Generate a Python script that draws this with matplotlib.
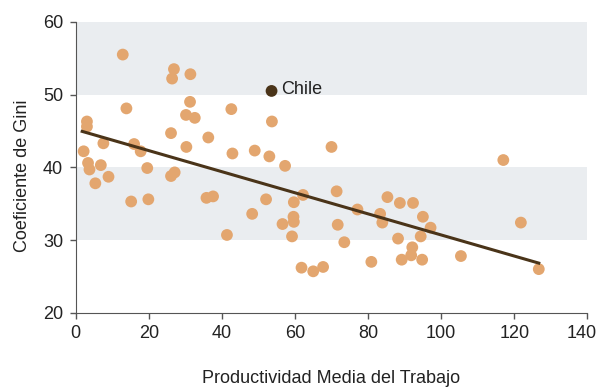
import matplotlib.pyplot as plt
import matplotlib.transforms as mtransforms

plt.rcParams['font.family'] = ['Liberation Sans Narrow', 'DejaVu Sans Condensed', 'Liberation Sans']

# productividad media del trabajo vs coeficiente de Gini, por pais
productividad = [12.9, 26.9, 26.4, 31.4, 13.9, 31.3, 42.6, 30.2, 32.6, 53.7,
                 3.1, 3.1, 26.1, 36.3, 16.0, 7.6, 17.8, 2.2, 30.3, 42.9,
                 49.0, 53.0, 57.3, 70.0, 3.4, 6.9, 3.8, 9.0, 5.4, 19.6,
                 27.1, 26.1, 15.2, 19.9, 35.8, 37.6, 41.4, 48.3, 52.1, 62.2,
                 59.7, 56.6, 59.6, 59.7, 59.2, 61.8, 65.0, 67.7, 117.0, 71.4,
                 77.1, 85.3, 88.7, 92.3, 83.3, 83.9, 95.0, 97.1, 94.4, 71.7,
                 73.5, 88.2, 92.1, 91.8, 89.2, 94.8, 105.4, 80.9, 121.8, 126.7]
gini = [55.5, 53.5, 52.2, 52.8, 48.1, 49.0, 48.0, 47.2, 46.8, 46.3,
        46.3, 45.6, 44.7, 44.1, 43.2, 43.3, 42.2, 42.2, 42.8, 41.9,
        42.3, 41.5, 40.2, 42.8, 40.6, 40.3, 39.7, 38.7, 37.8, 39.9,
        39.3, 38.8, 35.3, 35.6, 35.8, 36.0, 30.7, 33.6, 35.6, 36.2,
        35.2, 32.2, 33.2, 32.5, 30.5, 26.2, 25.7, 26.3, 41.0, 36.7,
        34.2, 35.9, 35.1, 35.1, 33.6, 32.4, 33.2, 31.7, 30.5, 32.1,
        29.7, 30.2, 29.0, 27.9, 27.3, 27.3, 27.8, 27.0, 32.4, 26.0]

chile_x, chile_y = 53.6, 50.5

# recta de tendencia
trend_x = [1.8, 126.7]
trend_intercept = 45.2
trend_slope = -0.145

fig = plt.figure(figsize=(6, 3.9), dpi=100)
ax = fig.add_axes([0.126, 0.198, 0.853, 0.746])

for lo, hi in [(30, 40), (50, 60)]:
    ax.axhspan(lo, hi, color='#eaedf0', zorder=0, lw=0)

ax.scatter(productividad, gini, s=72, color='#e3a66f', edgecolors='none', zorder=2)
ax.plot(trend_x, [trend_intercept + trend_slope * x for x in trend_x],
        color='#4a3419', lw=2.2, zorder=3)
ax.scatter([chile_x], [chile_y], s=72, color='#4a3419', edgecolors='none', zorder=4)
ax.annotate('Chile', (chile_x, chile_y), xytext=(7, 1), textcoords='offset points',
            va='center', fontsize=13, color='#222222')

ax.set_xlim(0, 140)
ax.set_ylim(20, 60)
ax.set_xticks(range(0, 141, 20))
ax.set_yticks(range(20, 61, 10))
ax.tick_params(direction='out', length=4, width=1, color='#555555',
               labelsize=13, labelcolor='#222222', pad=5)

# el ultimo rotulo del eje x se corre un poco para que no quede cortado
last = ax.get_xticklabels()[-1]
last.set_transform(last.get_transform() +
                   mtransforms.ScaledTranslation(-4 / 72, 0, fig.dpi_scale_trans))

for s in ['top', 'right']:
    ax.spines[s].set_visible(False)
for s in ['left', 'bottom']:
    ax.spines[s].set_color('#555555')

ax.set_xlabel('Productividad Media del Trabajo', fontsize=13, color='#222222', labelpad=20)
ax.set_ylabel('Coeficiente de Gini', fontsize=13, color='#222222', labelpad=10)
ax.yaxis.set_label_coords(-0.087, 0.47)

fig.savefig('out.png', dpi=100)
